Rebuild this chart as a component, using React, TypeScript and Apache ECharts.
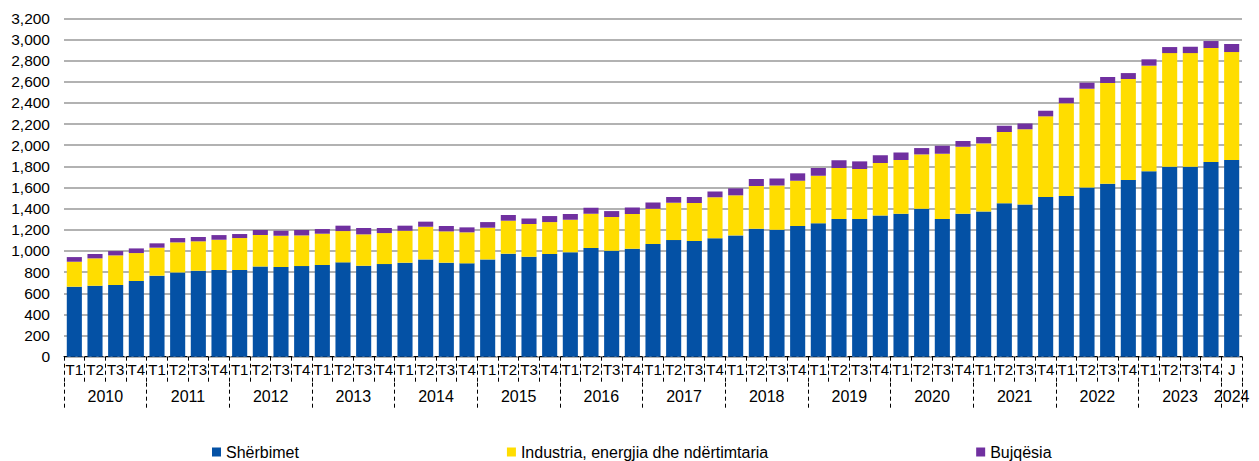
import React, { useEffect, useRef } from "react";
import * as echarts from "echarts";

const years = [2010, 2011, 2012, 2013, 2014, 2015, 2016, 2017, 2018, 2019, 2020, 2021, 2022, 2023, 2024];
const quarterNames = ["T1", "T2", "T3", "T4"];
const lastQuarterLabel = "J";

const sherbimet = [
  662, 671, 678, 716, 766, 797, 813, 820, 820, 854, 848, 857, 867, 892, 860, 876,
  889, 920, 889, 883, 920, 974, 946, 971, 987, 1028, 1002, 1021, 1065, 1103, 1094, 1119,
  1147, 1210, 1201, 1236, 1261, 1302, 1302, 1336, 1352, 1399, 1302, 1352, 1374, 1450, 1440, 1510,
  1519, 1601, 1636, 1671, 1753, 1797, 1797, 1841, 1860,
];
const industria = [
  236, 259, 280, 264, 265, 284, 278, 286, 302, 296, 296, 290, 296, 296, 297, 293,
  302, 309, 296, 293, 300, 312, 309, 302, 309, 324, 319, 328, 335, 353, 359, 388,
  379, 404, 419, 428, 451, 482, 473, 495, 508, 514, 618, 634, 643, 674, 710, 763,
  877, 933, 952, 955, 999, 1074, 1074, 1078, 1021,
];
const bujqesia = [
  44, 41, 41, 44, 41, 41, 41, 44, 38, 48, 47, 51, 44, 51, 60, 48,
  48, 48, 51, 47, 53, 54, 53, 57, 53, 57, 56, 63, 59, 54, 57, 56,
  66, 66, 66, 70, 72, 73, 72, 73, 72, 60, 75, 53, 60, 60, 56, 53,
  53, 57, 57, 56, 60, 57, 60, 66, 76,
];

const quarterLabels: string[] = [];
const yearOfCategory: string[] = [];
years.forEach((y) => {
  const qs = y === 2024 ? [lastQuarterLabel] : quarterNames;
  qs.forEach((q) => {
    quarterLabels.push(q);
    yearOfCategory.push(String(y));
  });
});

const FONT = "'Liberation Sans', Arial, sans-serif";

export default function App() {
  const ref = useRef<HTMLDivElement>(null);
  useEffect(() => {
    if (!ref.current) return;
    const chart = echarts.init(ref.current, undefined, { renderer: "svg" });
    const dash = { color: "#000", width: 1, type: [4, 3] as any };
    const n = quarterLabels.length;
    chart.setOption({
      animation: false,
      textStyle: { fontFamily: FONT },
      grid: { left: 64, right: 17, top: 18.3, bottom: 104.3, containLabel: false },
      legend: {
        left: 212,
        top: 444,
        padding: 0,
        itemGap: 208,
        itemWidth: 9,
        itemHeight: 9,
        icon: "rect",
        textStyle: { fontSize: 16, color: "#000", fontFamily: FONT },
        data: ["Shërbimet", "Industria, energjia dhe ndërtimtaria", "Bujqësia"],
      },
      xAxis: [
        {
          type: "category",
          data: quarterLabels,
          position: "bottom",
          axisLine: { show: true, lineStyle: dash },
          axisTick: { show: true, interval: 0, length: 26, lineStyle: dash },
          axisLabel: { interval: 0, margin: 5, fontSize: 15, color: "#000", fontFamily: FONT },
          splitLine: { show: false },
        },
        {
          type: "category",
          data: yearOfCategory,
          position: "bottom",
          offset: 26,
          axisLine: { show: false },
          axisTick: {
            show: true,
            interval: (i: number) => i % 4 === 0,
            length: 25,
            lineStyle: dash,
          },
          axisLabel: {
            interval: (i: number) => i % 4 === 1 || i === n - 1,
            margin: 6,
            fontSize: 16,
            color: "#000",
            fontFamily: FONT,
            formatter: (v: string, i: number) => (i === n - 1 ? "{b|" + v + "}" : "{a|" + v + "}"),
            rich: {
              a: { padding: [0, 0, 0, 20.67], fontSize: 16, color: "#000", fontFamily: FONT },
              b: { fontSize: 16, color: "#000", fontFamily: FONT },
            },
          },
        },
      ],
      yAxis: {
        type: "value",
        min: 0,
        max: 3200,
        interval: 200,
        axisLine: { show: false },
        axisTick: { show: false },
        axisLabel: {
          margin: 14,
          fontSize: 15.5,
          color: "#000",
          fontFamily: FONT,
          formatter: (v: number) => v.toLocaleString("en-US"),
        },
        splitLine: { show: true, lineStyle: { color: "#999", width: 1.5 } },
      },
      series: [
        {
          name: "Shërbimet",
          type: "bar",
          stack: "t",
          data: sherbimet,
          barWidth: "73%",
          itemStyle: { color: "#0451A5" },
        },
        {
          name: "Industria, energjia dhe ndërtimtaria",
          type: "bar",
          stack: "t",
          data: industria,
          barWidth: "73%",
          itemStyle: { color: "#FFDD00" },
        },
        {
          name: "Bujqësia",
          type: "bar",
          stack: "t",
          data: bujqesia,
          barWidth: "73%",
          itemStyle: { color: "#7030A0" },
        },
      ],
    });
    return () => chart.dispose();
  }, []);
  return (
    <div
      ref={ref}
      style={{ position: "absolute", left: 0, top: 0, width: 1259, height: 461, overflow: "hidden" }}
    />
  );
}
